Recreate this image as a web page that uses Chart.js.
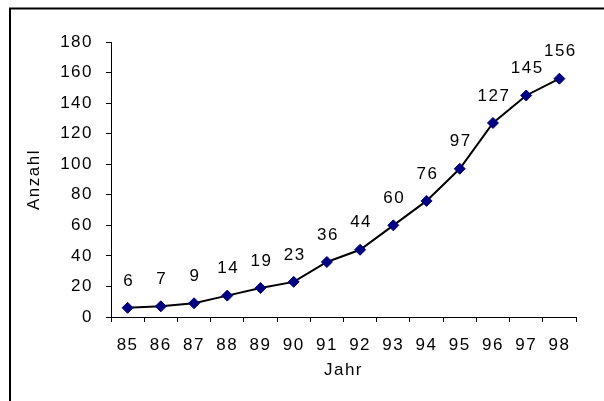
<!DOCTYPE html>
<html>
<head>
<meta charset="utf-8">
<script src="https://cdn.jsdelivr.net/npm/chart.js@4"></script>
<style>
  body { margin: 0; background: #fff; }
  #wrap { width: 604px; height: 401px; position: relative; }
</style>
</head>
<body>
<div id="wrap"><canvas id="anzahlChart" width="604" height="401"></canvas></div>
<script>
// Data
const jahre = ["85", "86", "87", "88", "89", "90", "91", "92", "93", "94", "95", "96", "97", "98"];
const anzahl = [6, 7, 9, 14, 19, 23, 36, 44, 60, 76, 97, 127, 145, 156];
const yMin = 0;
const yMax = 180;
const yStep = 20;

const fontFamily = "'Liberation Sans', Arial, sans-serif";
const fontSize = 17;
const spacing = "1.5px";
const textColor = "#000";

const ctx = document.getElementById("anzahlChart");

// frame around the chart (only left and top edge show in the picture)
// also sets the wider letter spacing the picture has
const framePlugin = {
  id: "frame",
  beforeUpdate(chart) {
    chart.ctx.letterSpacing = spacing;
  },
  beforeDraw(chart) {
    chart.ctx.letterSpacing = spacing;
  },
  afterDraw(chart) {
    const c = chart.ctx;
    c.save();
    c.strokeStyle = "#000";
    c.lineWidth = 2;
    c.beginPath();
    c.moveTo(10, 401);
    c.lineTo(10, 8.5);
    c.lineTo(604, 8.5);
    c.stroke();
    c.restore();
  }
};

// value labels above each point
const valueLabels = {
  id: "valueLabels",
  afterDatasetsDraw(chart) {
    const c = chart.ctx;
    const meta = chart.getDatasetMeta(0);
    c.save();
    c.letterSpacing = spacing;
    c.font = fontSize + "px " + fontFamily;
    c.fillStyle = textColor;
    c.textAlign = "center";
    c.textBaseline = "middle";
    meta.data.forEach((pt, i) => {
      c.fillText(String(anzahl[i]), pt.x + 1, pt.y - 27);
    });
    c.restore();
  }
};

new Chart(ctx, {
  type: "line",
  data: {
    labels: jahre,
    datasets: [
      {
        label: "Anzahl",
        data: anzahl,
        borderColor: "#000",
        borderWidth: 2,
        backgroundColor: "#000080",
        pointBackgroundColor: "#000080",
        pointBorderColor: "#000080",
        pointBorderWidth: 1,
        pointStyle: "rectRot",
        pointRadius: 5.5,
        tension: 0,
      }
    ],
  },
  options: {
    responsive: false,
    animation: false,
    devicePixelRatio: 1,
    layout: {
      padding: { left: 24, top: 42, right: 28, bottom: 20 }
    },
    plugins: {
      legend: { display: false },
      tooltip: { enabled: false },
    },
    scales: {
      x: {
        offset: true,
        grid: {
          offset: true,
          drawOnChartArea: false,
          drawTicks: true,
          tickLength: 5,
          color: "#000",
        },
        border: { color: "#000", width: 1 },
        ticks: {
          color: textColor,
          font: { family: fontFamily, size: fontSize },
          padding: 13,
          maxRotation: 0,
          autoSkip: false,
        },
        title: {
          display: true,
          text: "Jahr",
          color: textColor,
          font: { family: fontFamily, size: fontSize },
          padding: { top: 0, bottom: 0 },
        },
        afterFit(scale) {
          scale.height = 401 - 317 - 20;
        },
      },
      y: {
        min: yMin,
        max: yMax,
        grid: {
          drawOnChartArea: false,
          drawTicks: true,
          tickLength: 5,
          color: "#000",
        },
        border: { color: "#000", width: 1 },
        ticks: {
          stepSize: yStep,
          color: textColor,
          font: { family: fontFamily, size: fontSize },
          padding: 13,
        },
        title: {
          display: true,
          text: "Anzahl",
          color: textColor,
          font: { family: fontFamily, size: fontSize },
          padding: { top: 0, bottom: 0 },
        },
        afterFit(scale) {
          scale.width = 111 - 24;
        },
      },
    },
  },
  plugins: [framePlugin, valueLabels],
});
</script>
</body>
</html>
